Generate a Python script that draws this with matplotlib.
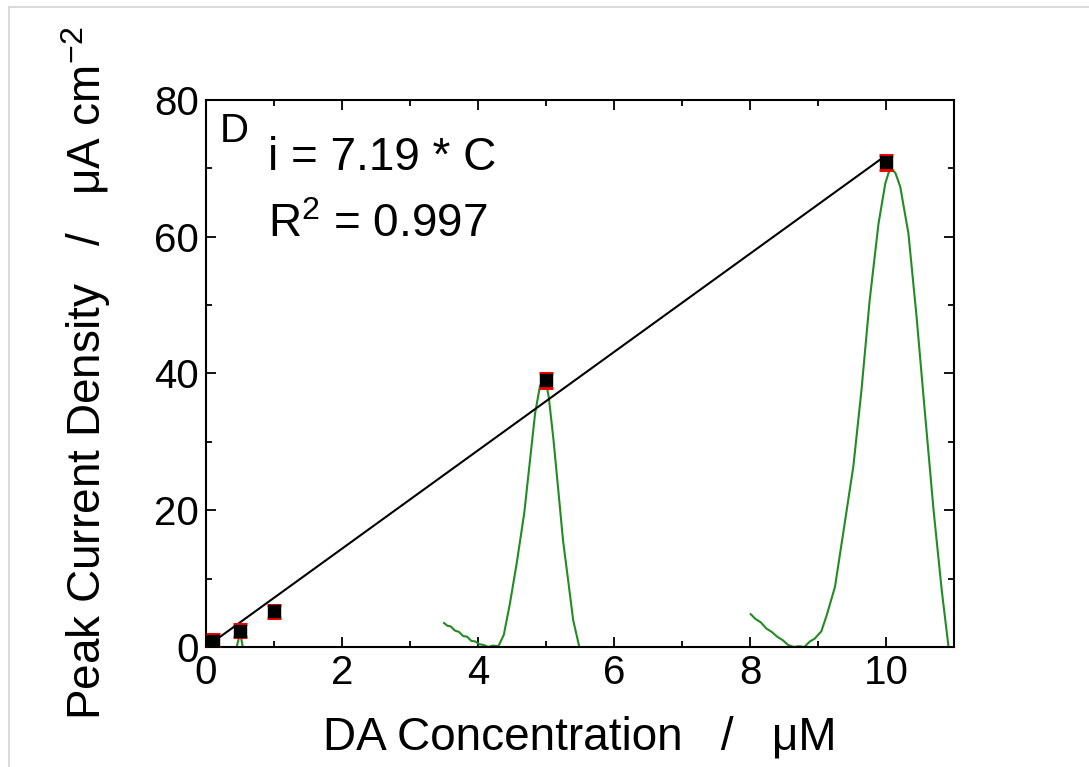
import numpy as np
import matplotlib
matplotlib.use("Agg")
import matplotlib.pyplot as plt
from matplotlib.lines import Line2D
from matplotlib.ticker import MultipleLocator

plt.rcParams['font.family'] = ['Liberation Sans', 'DejaVu Sans']
plt.rcParams['mathtext.fontset'] = 'custom'
plt.rcParams['mathtext.rm'] = 'Liberation Sans'
plt.rcParams['mathtext.it'] = 'Liberation Sans:italic'

# calibration points
conc = [0.1, 0.5, 1.0, 5.0, 10.0]
peak = [0.9, 2.4, 5.2, 39.0, 70.9]
peak_err = [1.0, 1.0, 1.0, 1.1, 1.1]

# linear fit through origin
slope = 7.19
fit_x = [0.0, 10.0]

# overlaid DPV traces
trace1_x = [0.45, 0.48, 0.50, 0.52, 0.54]
trace1_y = [0.0, 1.2, 2.2, 1.1, 0.0]

trace2_x = [3.50, 3.55, 3.60, 3.66, 3.72, 3.78, 3.84, 3.90, 3.96, 4.02, 4.08,
            4.15, 4.22, 4.30, 4.38, 4.47, 4.57, 4.68, 4.76, 4.84, 4.91, 4.96,
            5.00, 5.04, 5.11, 5.18, 5.25, 5.33, 5.40, 5.49]
trace2_y = [3.5, 3.1, 3.0, 2.4, 2.2, 1.6, 1.5, 0.9, 0.8, 0.4, 0.3,
            0.0, 0.2, 0.1, 1.8, 6.4, 12.3, 19.6, 26.9, 34.2, 38.1, 39.3,
            38.7, 36.6, 30.3, 23.0, 15.6, 9.4, 3.9, 0.0]

trace3_x = [8.01, 8.08, 8.16, 8.24, 8.32, 8.40, 8.48, 8.56, 8.64, 8.72, 8.80,
            8.88, 8.95, 9.05, 9.13, 9.25, 9.37, 9.52, 9.64, 9.76, 9.89, 9.99,
            10.04, 10.08, 10.14, 10.21, 10.33, 10.45, 10.57, 10.70, 10.82, 10.92]
trace3_y = [4.8, 4.1, 3.6, 2.7, 2.2, 1.5, 1.0, 0.3, 0.0, 0.1, 0.0,
            0.8, 1.2, 2.3, 4.7, 8.8, 16.6, 26.4, 37.6, 50.7, 61.9, 67.8,
            69.4, 70.0, 69.3, 67.3, 60.5, 48.3, 34.6, 20.0, 8.3, 0.0]

fig = plt.figure(figsize=(10.89, 7.67), dpi=100)
ax = fig.add_axes([0.1892, 0.1565, 0.6868, 0.7131])

# faint frame of the original picture
fig.add_artist(Line2D([0.0083, 1.0], [0.991, 0.991], color='#d4d4d4', lw=1.2, transform=fig.transFigure))
fig.add_artist(Line2D([0.0083, 0.0083], [0.991, 0.0], color='#d4d4d4', lw=1.2, transform=fig.transFigure))

green = '#228b22'
ax.plot(trace1_x, trace1_y, color=green, lw=1.5, zorder=2)
ax.plot(trace2_x, trace2_y, color=green, lw=1.5, zorder=2)
ax.plot(trace3_x, trace3_y, color=green, lw=1.5, zorder=2)

ax.plot(fit_x, [slope * v for v in fit_x], color='black', lw=1.5, zorder=3)

ax.errorbar(conc, peak, yerr=peak_err, fmt='none', ecolor='red', elinewidth=1.5,
            capsize=5, capthick=2.2, zorder=4)
ax.plot(conc, peak, 's', color='black', ms=8, zorder=5)

ax.set_xlim(0, 11)
ax.set_ylim(0, 80)
ax.xaxis.set_major_locator(MultipleLocator(2))
ax.xaxis.set_minor_locator(MultipleLocator(1))
ax.yaxis.set_major_locator(MultipleLocator(20))
ax.yaxis.set_minor_locator(MultipleLocator(10))
ax.tick_params(which='both', direction='in', top=True, right=True, width=1.3)
ax.tick_params(which='major', length=7, labelsize=29, pad=5)
ax.tick_params(which='minor', length=4)
for s in ax.spines.values():
    s.set_linewidth(1.5)

ax.set_xlabel('DA Concentration   /   \u03bcM', fontsize=33, labelpad=17)
ax.set_ylabel('Peak Current Density   /   \u03bcA cm$^{-2}$', fontsize=33, labelpad=30)

ax.text(0.018, 0.978, 'D', transform=ax.transAxes, fontsize=29, va='top', ha='left')
ax.text(0.083, 0.894, 'i = 7.19 * C', transform=ax.transAxes, fontsize=33, va='center', ha='left')
ax.text(0.083, 0.771, 'R$^2$ = 0.997', transform=ax.transAxes, fontsize=33, va='center', ha='left')

fig.savefig('out.png', dpi=100)
